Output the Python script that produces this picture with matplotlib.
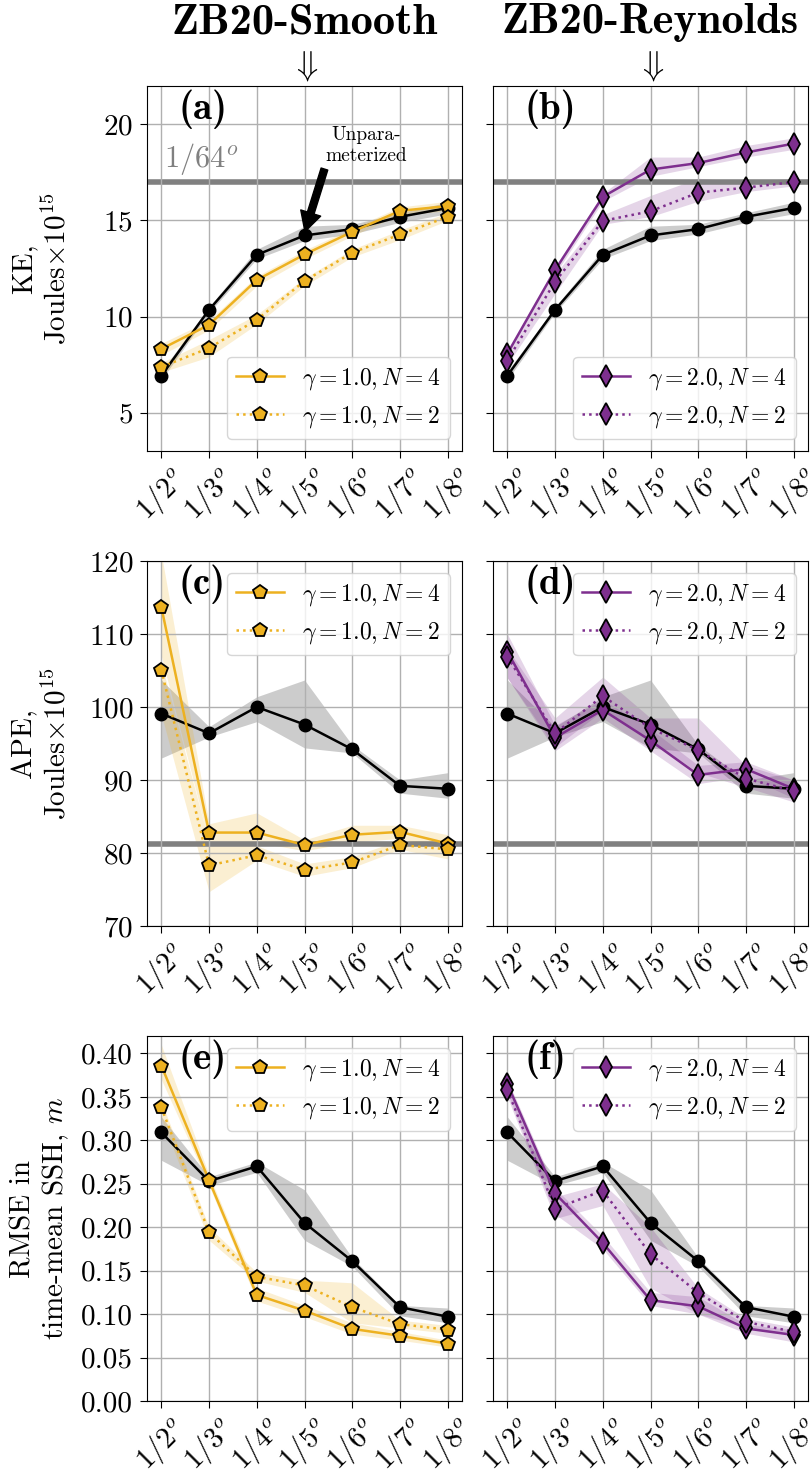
"""
KE, APE and SSH RMSE vs resolution for ZB20-Smooth and ZB20-Reynolds.
"""

import numpy as np
import matplotlib

matplotlib.use("Agg")
import matplotlib.pyplot as plt
from matplotlib.transforms import blended_transform_factory

plt.rcParams.update(
    {
        "font.family": "serif",
        "font.serif": ["cmr10"],
        "mathtext.fontset": "cm",
        "axes.unicode_minus": False,
        "axes.formatter.use_mathtext": True,
        "font.size": 21,
        "ytick.major.size": 5,
        "ytick.major.pad": 5,
        "xtick.major.size": 5,
    }
)

resolutions = ["1/2", "1/3", "1/4", "1/5", "1/6", "1/7", "1/8"]
tick_labels = [rf"${r}^o$" for r in resolutions]

# KE, Joules x 1e15
ke_unparam = [6.92, 10.35, 13.21, 14.22, 14.55, 15.19, 15.65]
ke_unparam_lo = [6.7, 10.2, 13.0, 13.95, 14.3, 14.9, 15.35]
ke_unparam_hi = [7.15, 10.5, 13.5, 14.7, 14.8, 15.4, 15.95]
ke_smooth_n4 = [8.31, 9.57, 11.9, 13.23, 14.41, 15.5, 15.75]
ke_smooth_n4_lo = [8.0, 9.3, 11.6, 13.0, 14.2, 15.3, 15.5]
ke_smooth_n4_hi = [8.6, 9.8, 12.1, 13.45, 14.6, 15.7, 16.0]
ke_smooth_n2 = [7.37, 8.36, 9.83, 11.85, 13.32, 14.27, 15.19]
ke_smooth_n2_lo = [7.1, 7.9, 9.6, 11.6, 13.1, 14.0, 15.0]
ke_smooth_n2_hi = [7.6, 8.8, 10.1, 12.0, 13.5, 14.5, 15.4]
ke_reyn_n4 = [8.06, 12.42, 16.23, 17.65, 17.99, 18.54, 19.0]
ke_reyn_n4_lo = [7.9, 12.2, 16.0, 17.3, 17.8, 18.3, 18.7]
ke_reyn_n4_hi = [8.2, 12.6, 16.4, 18.3, 18.3, 18.9, 19.3]
ke_reyn_n2 = [7.71, 11.81, 14.98, 15.48, 16.45, 16.71, 17.0]
ke_reyn_n2_lo = [7.5, 11.2, 14.8, 15.2, 16.0, 16.5, 16.8]
ke_reyn_n2_hi = [7.9, 12.2, 15.3, 16.3, 17.2, 17.0, 17.2]
ke_hires = 17.0

# APE, Joules x 1e15
ape_unparam = [99.1, 96.4, 100.0, 97.6, 94.2, 89.2, 88.8]
ape_unparam_lo = [93.0, 95.9, 98.0, 94.4, 93.7, 88.2, 87.5]
ape_unparam_hi = [103.7, 97.3, 101.4, 103.7, 94.8, 90.0, 91.0]
ape_smooth_n4 = [113.7, 82.8, 82.8, 81.1, 82.5, 82.9, 81.3]
ape_smooth_n4_lo = [107.0, 81.5, 81.5, 80.3, 81.5, 82.0, 80.5]
ape_smooth_n4_hi = [121.0, 84.0, 85.5, 81.8, 83.8, 83.8, 82.5]
ape_smooth_n2 = [105.1, 78.3, 79.7, 77.7, 78.7, 81.1, 80.5]
ape_smooth_n2_lo = [99.0, 74.7, 79.0, 76.8, 78.0, 80.5, 79.2]
ape_smooth_n2_hi = [106.0, 81.5, 81.0, 78.5, 79.5, 81.8, 81.5]
ape_reyn_n4 = [107.6, 95.8, 99.6, 95.4, 90.7, 91.5, 88.8]
ape_reyn_n4_lo = [104.0, 94.0, 98.5, 94.0, 89.5, 90.5, 87.5]
ape_reyn_n4_hi = [110.0, 97.5, 101.0, 97.0, 92.0, 92.5, 90.0]
ape_reyn_n2 = [106.9, 96.4, 101.5, 97.1, 94.1, 90.2, 88.5]
ape_reyn_n2_lo = [104.0, 94.5, 99.5, 95.5, 91.0, 89.0, 87.0]
ape_reyn_n2_hi = [108.0, 98.5, 104.1, 98.5, 98.5, 92.0, 90.0]
ape_hires = 81.3

# RMSE in time-mean SSH, m
rmse_unparam = [0.309, 0.253, 0.270, 0.205, 0.161, 0.108, 0.097]
rmse_unparam_lo = [0.277, 0.248, 0.263, 0.185, 0.155, 0.098, 0.090]
rmse_unparam_hi = [0.327, 0.258, 0.275, 0.243, 0.165, 0.110, 0.107]
rmse_smooth_n4 = [0.386, 0.254, 0.122, 0.104, 0.083, 0.075, 0.066]
rmse_smooth_n4_lo = [0.370, 0.248, 0.115, 0.097, 0.077, 0.070, 0.062]
rmse_smooth_n4_hi = [0.410, 0.260, 0.130, 0.110, 0.090, 0.080, 0.070]
rmse_smooth_n2 = [0.338, 0.194, 0.143, 0.133, 0.108, 0.0885, 0.082]
rmse_smooth_n2_lo = [0.325, 0.185, 0.138, 0.125, 0.090, 0.084, 0.078]
rmse_smooth_n2_hi = [0.345, 0.200, 0.148, 0.139, 0.136, 0.093, 0.087]
rmse_reyn_n4 = [0.365, 0.239, 0.182, 0.116, 0.109, 0.0835, 0.076]
rmse_reyn_n4_lo = [0.355, 0.215, 0.175, 0.110, 0.100, 0.078, 0.068]
rmse_reyn_n4_hi = [0.370, 0.245, 0.190, 0.125, 0.120, 0.088, 0.082]
rmse_reyn_n2 = [0.358, 0.2215, 0.242, 0.169, 0.1245, 0.091, 0.0797]
rmse_reyn_n2_lo = [0.350, 0.210, 0.225, 0.130, 0.100, 0.085, 0.075]
rmse_reyn_n2_hi = [0.365, 0.235, 0.250, 0.200, 0.130, 0.095, 0.085]

YELLOW = "#EDB120"
PURPLE = "#7E2F8E"
x = np.arange(len(resolutions))


def plot_series(ax, y, lo, hi, color, ls, marker, ms, label=None):
    ax.fill_between(x, lo, hi, color=color, alpha=0.2, lw=0)
    ax.plot(x, y, ls=ls, color=color, lw=1.8, marker=marker, ms=ms,
            mec="k", mew=1.3, label=label)


def plot_unparam(ax, y, lo, hi):
    ax.fill_between(x, lo, hi, color="k", alpha=0.2, lw=0)
    ax.plot(x, y, "-", color="k", lw=1.8, marker="o", ms=9)


def setup_axis(ax, ylim, yticks, label=None):
    ax.set_ylim(*ylim)
    ax.set_yticks(yticks)
    ax.set_xlim(-0.3, 6.3)
    ax.set_xticks(x)
    ax.set_xticklabels(tick_labels, rotation=45, fontsize=21)
    ax.grid(True, color="#b0b0b0", lw=1.0)
    if label is not None:
        ax.set_ylabel(label, fontsize=21)
        ax.yaxis.set_label_coords(-0.24, 0.5)
    else:
        ax.tick_params(labelleft=False)


fig = plt.figure(figsize=(8.1, 14.81), dpi=100)
W, H = 810, 1481
cols = [147, 493]
rows = [(86, 451), (561, 926), (1036, 1401)]
axes = []
for top, bot in rows:
    r = []
    for left in cols:
        r.append(fig.add_axes([left / W, 1 - bot / H, 315 / W, (bot - top) / H]))
    axes.append(r)

rows_data = [
    (ke_unparam, ke_unparam_lo, ke_unparam_hi,
     (ke_smooth_n4, ke_smooth_n4_lo, ke_smooth_n4_hi),
     (ke_smooth_n2, ke_smooth_n2_lo, ke_smooth_n2_hi),
     (ke_reyn_n4, ke_reyn_n4_lo, ke_reyn_n4_hi),
     (ke_reyn_n2, ke_reyn_n2_lo, ke_reyn_n2_hi),
     ke_hires, (3, 22), [5, 10, 15, 20], "KE,\nJoules$\\times10^{15}$", "lower right"),
    (ape_unparam, ape_unparam_lo, ape_unparam_hi,
     (ape_smooth_n4, ape_smooth_n4_lo, ape_smooth_n4_hi),
     (ape_smooth_n2, ape_smooth_n2_lo, ape_smooth_n2_hi),
     (ape_reyn_n4, ape_reyn_n4_lo, ape_reyn_n4_hi),
     (ape_reyn_n2, ape_reyn_n2_lo, ape_reyn_n2_hi),
     ape_hires, (70, 120), [70, 80, 90, 100, 110, 120],
     "APE,\nJoules$\\times10^{15}$", "upper right"),
    (rmse_unparam, rmse_unparam_lo, rmse_unparam_hi,
     (rmse_smooth_n4, rmse_smooth_n4_lo, rmse_smooth_n4_hi),
     (rmse_smooth_n2, rmse_smooth_n2_lo, rmse_smooth_n2_hi),
     (rmse_reyn_n4, rmse_reyn_n4_lo, rmse_reyn_n4_hi),
     (rmse_reyn_n2, rmse_reyn_n2_lo, rmse_reyn_n2_hi),
     None, (0, 0.42), np.arange(0, 0.41, 0.05),
     "RMSE in\ntime-mean SSH, $m$", "upper right"),
]

letters = iter("abcdef")
for i, (unp, unp_lo, unp_hi, s4, s2, r4, r2, hires, ylim, yt, ylab, loc) in enumerate(rows_data):
    ax_s, ax_r = axes[i]
    for ax, n4, n2, color, marker, ms, g in [
        (ax_s, s4, s2, YELLOW, "p", 10.5, "1.0"),
        (ax_r, r4, r2, PURPLE, "d", 11, "2.0"),
    ]:
        if hires is not None:
            ax.axhline(hires, color="gray", lw=4, zorder=1.5)
        plot_unparam(ax, unp, unp_lo, unp_hi)
        plot_series(ax, *n4, color, "-", marker, ms, label=rf"$\gamma={g}, N=4$")
        plot_series(ax, *n2, color, ":", marker, ms, label=rf"$\gamma={g}, N=2$")
        ax.legend(loc=loc, fontsize=17, handlelength=2.0)
        ax.text(0.1, 0.99, f"({next(letters)})", transform=ax.transAxes,
                ha="left", va="top", fontsize=28, family="cmb10")
    setup_axis(ax_s, ylim, yt, ylab)
    setup_axis(ax_r, ylim, yt)
    if i == 2:
        ax_s.yaxis.set_major_formatter(matplotlib.ticker.FormatStrFormatter("%.2f"))

ax_a = axes[0][0]
ax_a.text(0.06, 17.25, r"$1/64^o$", color="gray", fontsize=22, va="bottom")
ax_a.annotate("Unpara-\nmeterized", xy=(3, 14.35), xytext=(4.3, 18.9),
              fontsize=14, ha="center", va="center",
              arrowprops=dict(facecolor="black", width=5, headwidth=15,
                              headlength=14, shrink=0.02))

for ax, title in [(axes[0][0], "ZB20-Smooth"), (axes[0][1], "ZB20-Reynolds")]:
    trans = blended_transform_factory(ax.transAxes, fig.transFigure)
    ax.text(0.5, (H - 23) / H, title, transform=trans, ha="center",
            va="center", fontsize=32, family="cmb10")
    ax.annotate(r"$\Downarrow$", xy=(3, 1.0), xycoords=("data", "axes fraction"),
                xytext=(3, (H - 66) / H), textcoords=("data", "figure fraction"),
                ha="center", va="center", fontsize=25)

fig.savefig("out.png", dpi=100)
